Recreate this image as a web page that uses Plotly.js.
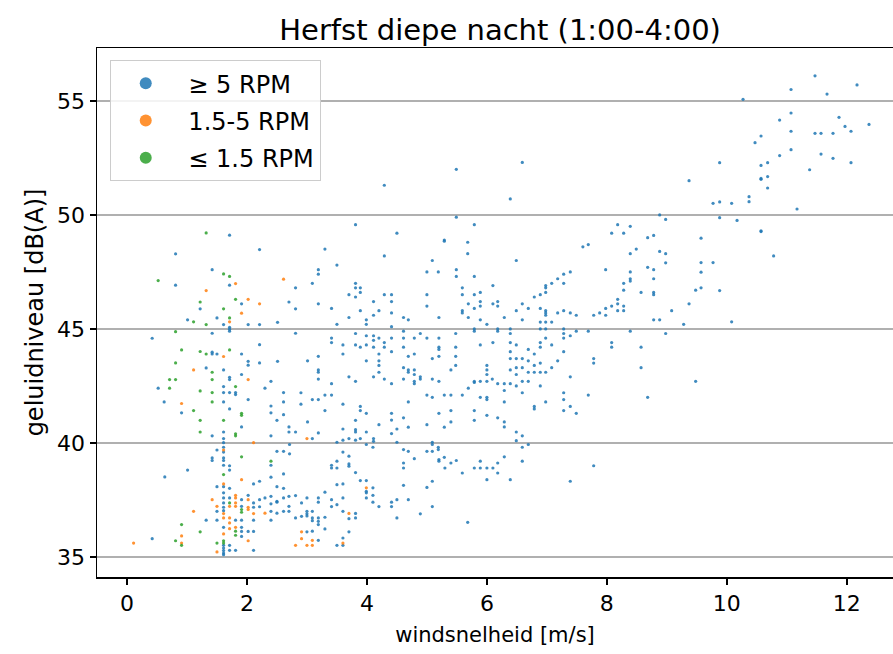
<!DOCTYPE html>
<html><head><meta charset="utf-8">
<script src="https://cdn.plot.ly/plotly-3.0.1.min.js"></script>
<style>body{margin:0;padding:0;background:#fff}#chart{width:893px;height:654px}</style>
</head><body><div id="chart"></div>
<script>
// >= 5 RPM (blue)
const blueX = [
11.47,12.17,11.07,11.67,10.27,11.07,11.87,10.88,12.37,11.97,12.07,11.47,11.57,11.77,11.07,10.57,10.47,10.88,11.07,11.57,11.77,12.07,9.88,10.57,10.68,11.38,10.57,10.57,10.68,10.68,10.37,10.37,9.77,9.88,10.08,11.17,9.88,10.17,
4.29,5.49,5.49,5.79,3.81,
6.59,6.39,9.37,8.88,8.98,8.18,8.39,
10.57,10.57,9.57,10.78,9.57,9.77,9.57,9.57,9.88,10.08,
4.50,5.29,5.29,5.68,3.30,5.68,4.29,5.09,3.50,3.19,3.19,5.0,5.19,5.49,5.49,5.79,3.09,3.81,3.81,3.89,3.89,6.1,5.59,5.59,5.89,3.70,3.81,4.29,4.41,4.41,5.0,5.0,4.11,3.19,5.79,5.69,5.79,5.89,5.89,6.1,5.59,5.59,4.20,4.11,3.89,3.41,3.70,3.99,3.99,4.41,4.61,4.69,5.2,5.69,5.89,3.50,4.41,6.0,5.79,5.79,4.61,4.89,5.48,3.81,3.41,3.41,3.99,4.11,4.11,4.2,4.41,4.61,4.79,5.0,5.2,3.6,3.81,3.89,3.99,4.11,4.29,4.29,4.41,4.61,5.2,5.2,5.48,5.89,6.1,3.6,4.2,4.79,5.2,5.09,4.69,3.19,3.99,4.2,4.2,5.48,5.48,3.01,3.19,3.19,3.7,3.81,4.11,4.2,4.29,4.41,4.61,4.69,4.69,4.79,4.79,4.79,4.79,4.89,4.89,4.61,5.09,5.2,5.4,5.79,5.79,5.89,6.0,6.0,6.0,6.0,6.09,5.69,3.19,3.41,3.41,3.3,2.9,2.9,3.09,3.19,3.6,3.89,4.69,5.0,5.09,5.29,5.4,5.59,5.89,6.0,6.0,
8.08,8.28,8.68,8.78,7.6,7.69,6.49,8.39,8.49,8.88,8.98,8.98,7.98,8.68,8.78,8.39,8.39,8.39,8.28,8.28,7.39,7.28,7.28,7.18,7.08,6.98,6.98,6.98,6.89,6.79,8.57,8.78,8.78,8.78,9.48,9.37,9.08,8.18,8.18,8.18,8.08,8.28,8.28,7.98,7.88,7.78,7.98,6.59,6.69,6.18,6.18,6.49,6.89,6.98,6.98,6.98,7.18,7.28,7.39,7.49,6.29,6.59,6.89,6.98,7.08,8.78,8.88,9.28,6.39,6.89,6.98,7.28,7.28,7.49,7.69,8.39,8.98,6.18,6.18,6.39,6.98,7.28,7.39,6.39,6.49,6.89,6.89,7.08,8.08,8.08,8.57,7.28,6.39,6.69,6.79,6.39,6.49,6.59,6.69,6.79,6.89,7.18,7.78,7.78,6.39,6.49,6.49,6.59,6.69,6.79,6.89,6.98,7.08,8.57,7.39,6.18,6.29,6.39,6.49,6.59,6.69,6.89,6.29,6.59,7.28,7.28,7.69,8.68,9.48,6.29,6.98,6.79,7.39,
1.71,0.81,2.21,1.42,0.81,1.71,2.81,1.22,1.91,2.7,2.81,1.5,1.01,1.61,1.71,1.71,1.71,2.02,2.21,2.51,1.42,2.81,0.42,1.42,1.42,1.5,1.91,2.21,2.02,2.02,2.21,2.51,1.32,1.61,1.91,1.71,1.71,2.4,0.52,1.61,2.3,1.61,1.71,1.81,1.81,2.61,2.02,0.62,1.61,2.4,2.61,
0.91,1.71,2.4,2.61,1.91,2.5,2.7,2.81,2.7,1.42,1.61,1.61,2.4,1.61,1.61,1.61,1.5,2.71,2.5,2.61,2.71,1.42,1.42,1.61,1.61,2.4,1.01,1.71,1.71,1.61,2.61,2.4,0.63,2.11,2.21,1.5,1.61,1.71,2.5,2.61,1.61,1.61,1.71,1.91,2.02,2.11,2.21,2.3,2.4,2.5,2.61,2.7,2.81,1.61,1.61,1.61,1.91,2.11,2.21,2.4,2.4,2.5,2.5,2.61,2.7,2.7,2.81,1.32,1.5,1.5,1.81,1.91,2.11,2.4,1.61,1.91,2.02,2.11,1.91,1.91,0.42,1.71,1.61,1.61,1.61,1.61,1.61,1.71,1.81,2.11,
3.3,3.89,3.99,4.41,4.41,4.61,5.2,5.4,5.4,5.79,5.79,6.0,3.01,3.81,4.2,5.0,5.29,4.69,4.5,3.6,3.19,3.81,3.81,3.99,4.41,3.09,3.6,3.7,3.81,3.89,4.11,4.11,3.5,3.99,4.1,4.5,4.61,4.69,5.09,5.09,5.0,5.09,5.19,5.19,5.29,4.79,5.2,5.2,5.4,5.49,5.89,5.89,5.79,6.0,6.1,5.59,6.0,5.3,4.61,4.61,3.6,3.5,3.5,3.41,3.41,3.7,3.7,3.7,3.81,3.89,3.99,3.99,3.99,4.1,4.1,3.99,4.1,4.2,4.41,4.41,4.5,4.61,4.69,5.0,5.09,5.09,4.89,4.5,5.68,3.5,3.6,3.3,3.19,3.19,3.0,2.91,3.41,3.5,3.6,3.7,3.81,3.81,3.6,3.41,3.3,3.19,3.19,3.19,3.09,3.09,3.09,3.0,3.0,3.0,2.91,3.09,3.0,3.3,3.6,3.7,3.19,3.5,3.6,
6.79,7.28,7.49,6.18,6.29,6.29,6.49,6.59,6.49,6.69,6.59,6.29,6.18,6.59,6.18,6.39,7.78,7.39
];
const blueY = [
56.1,55.7,55.5,55.3,55.07,54.47,54.28,54.16,53.97,53.88,53.67,53.58,53.58,53.58,53.67,53.46,53.17,52.6,52.86,52.67,52.48,52.29,52.29,52.17,52.29,51.98,51.56,51.6,51.68,51.18,50.8,50.58,50.51,50.57,50.51,50.26,49.88,49.76,
51.3,52.0,49.9,49.57,49.57,
52.3,50.7,51.5,50.0,49.8,49.57,49.5,
49.27,49.3,48.98,48.2,47.91,47.91,47.49,46.8,46.68,45.31,
49.2,48.9,48.85,48.8,48.5,48.3,48.2,48.0,47.8,47.6,47.4,47.5,47.5,47.6,47.3,47.3,47.0,47.0,46.8,46.8,46.6,46.9,46.8,46.5,46.6,46.5,46.4,46.5,46.5,46.2,46.5,46.0,46.2,46.1,46.5,46.1,45.9,46.0,46.2,46.1,45.8,45.7,45.8,45.6,45.8,45.9,45.5,45.4,45.2,45.7,45.5,45.4,45.5,45.5,45.4,45.2,45.1,45.2,45.0,44.9,44.9,44.8,44.8,44.8,44.6,44.4,44.7,44.7,44.5,44.6,44.6,44.6,44.6,44.6,44.6,44.3,44.3,44.2,44.3,44.2,44.4,44.2,44.0,44.2,44.2,44.1,44.2,44.3,44.4,43.9,43.9,43.9,43.8,43.7,43.8,43.8,43.6,43.6,43.4,43.8,43.4,43.6,43.2,43.1,42.9,42.7,42.9,43.1,42.8,42.6,43.3,43.2,43.1,43.2,43.0,42.7,42.6,42.9,42.8,42.8,42.8,42.7,43.2,42.7,42.65,42.7,43.4,43.2,43.0,42.7,42.8,42.4,42.8,42.6,42.1,42.1,42.2,41.7,41.9,41.9,41.7,41.6,41.8,42.1,42.0,42.1,42.1,42.1,42.0,42.0,41.9,
49.2,49.2,49.0,49.1,48.6,48.7,48.0,48.3,48.5,48.4,48.3,47.9,47.6,47.7,47.6,47.5,47.2,47.1,47.0,46.7,47.5,47.4,47.0,47.2,47.0,46.9,46.8,46.6,46.5,46.4,46.6,47.2,46.6,46.5,46.7,46.1,45.8,46.3,46.1,45.8,46.0,46.0,45.8,45.9,45.7,45.6,45.6,46.1,45.9,46.2,46.0,45.8,45.9,45.8,45.7,45.6,45.7,45.8,45.7,45.6,45.5,45.4,45.3,45.3,45.3,45.4,45.4,45.2,45.0,45.0,45.0,45.0,44.8,44.9,44.9,44.9,44.8,45.0,44.9,44.8,44.6,44.6,44.7,44.4,44.3,44.4,44.2,44.3,44.4,44.2,44.2,44.0,44.0,44.1,43.9,43.7,43.7,43.7,43.6,43.4,43.5,43.6,43.7,43.5,43.2,43.3,43.0,43.3,43.1,43.1,43.1,43.1,43.3,43.3,42.9,42.6,42.6,42.6,42.5,42.7,42.7,42.5,42.3,42.2,42.2,41.9,42.1,42.0,42.7,41.8,41.8,41.6,41.6,
49.11,48.29,48.48,47.6,46.92,46.92,46.8,45.88,46.1,46.18,45.88,45.48,45.4,45.19,45.07,44.99,44.9,45.19,45.19,45.29,44.81,44.81,44.59,43.98,43.9,43.9,43.9,44.31,43.58,43.41,43.51,43.58,43.29,43.2,43.0,42.88,42.78,42.7,42.4,42.47,42.4,42.21,42.21,42.21,42.12,42.21,41.9,41.8,41.8,41.62,41.8,
41.32,41.49,41.32,41.24,40.7,40.99,40.7,40.48,40.48,40.31,40.48,40.19,40.31,40.01,39.81,39.6,39.69,39.93,39.63,39.63,39.52,39.34,39.23,39.34,39.23,39.02,38.81,39.0,38.81,39.02,38.64,38.5,38.51,38.2,38.32,38.08,38.08,38.01,38.08,38.01,37.81,37.59,37.59,37.51,37.7,37.37,37.51,37.59,37.66,37.44,37.59,37.66,37.69,37.37,37.18,37.03,37.22,37.18,37.2,37.33,37.0,37.4,36.92,37.0,37.22,37.0,36.71,36.61,37.0,36.61,36.61,36.61,36.61,36.61,36.3,36.3,36.12,36.12,36.12,35.9,35.8,35.51,35.51,35.39,35.28,35.17,35.1,35.29,35.29,35.29,
41.42,41.42,41.3,41.3,41.0,41.1,41.3,41.42,40.92,41.42,40.99,41.21,40.92,40.99,40.8,40.8,40.69,40.69,40.61,40.61,40.44,40.58,40.48,40.48,40.41,40.19,40.12,40.19,40.12,40.19,40.19,40.07,40.03,39.93,39.81,40.03,39.71,39.63,40.03,39.93,39.63,39.63,39.81,39.71,39.37,39.31,39.27,39.2,39.12,39.23,39.2,38.9,38.9,38.9,38.9,38.68,38.39,38.9,39.12,38.9,39.6,39.2,38.9,39.02,38.9,39.42,39.08,38.98,38.7,38.35,38.35,37.88,37.81,38.03,37.7,37.59,37.4,37.21,37.4,37.21,37.51,38.14,37.51,38.05,38.32,37.21,36.89,36.71,36.52,38.17,38.2,37.84,37.59,37.4,37.59,37.37,37.51,37.29,37.59,36.68,36.91,36.71,37.0,37.21,36.74,36.71,36.56,36.42,37.0,36.71,36.59,37.0,36.89,36.8,36.78,36.13,36.1,36.23,35.83,36.1,35.73,35.51,35.51,
41.49,41.42,41.3,41.1,40.92,40.7,40.48,40.31,40.1,39.93,39.81,39.39,39.12,39.2,38.68,38.39,39.0,38.32
];
// 1.5-5 RPM (orange)
const orangeX = [1.81,2.61,1.32,2.02,2.21,1.91,1.71,1.61,1.11,2.02,0.91,
2.11,1.61,1.91,1.61,1.42,1.81,1.81,1.81,1.81,2.02,1.5,1.71,2.02,2.02,2.11,2.3,1.11,1.61,1.61,1.71,1.71,1.71,1.81,1.61,0.91,0.91,0.11,2.02,1.5,2.81,
3.0,3.99,3.7,2.91,2.91,3.09,3.09,3.0,3.6];
const orangeY = [46.99,47.18,46.68,46.3,46.1,45.69,45.31,43.79,43.2,42.78,41.73,
40.01,39.69,38.39,38.2,37.51,37.7,37.59,37.37,37.22,37.51,37.22,37.22,37.18,37.08,36.9,36.92,37.0,36.9,36.71,36.71,36.49,36.24,36.3,36.01,35.92,35.61,35.61,35.71,35.22,35.51,
40.19,38.03,36.91,36.1,35.8,35.73,35.51,35.51,35.61];
// <= 1.5 RPM (green)
const greenX = [1.32,0.52,1.61,1.71,1.22,1.81,1.61,1.71,1.11,1.32,0.81,0.91,1.22,1.32,1.71,0.81,1.42,0.71,0.81,1.42,0.71,1.81,1.22,1.42,1.42,
1.11,1.91,1.91,1.22,1.61,1.22,1.81,1.81,1.91,2.4,1.61,1.71,1.91,1.91,0.91,1.22,1.81,1.81,0.81,0.91,1.5,1.61,1.61];
const greenY = [49.21,47.12,47.41,47.3,46.18,46.3,45.88,45.48,45.31,45.19,44.88,44.08,44.01,43.9,44.08,43.51,43.1,42.78,42.78,42.78,42.4,42.47,42.28,42.21,41.8,
41.42,41.3,41.21,40.99,40.99,40.48,40.4,40.31,39.39,39.2,38.61,37.37,37.08,36.96,36.42,36.1,36.13,35.95,35.71,35.51,35.61,35.71,35.61];

const seriesNames = ['\u00a0\u2265 5 RPM', '\u00a01.5-5 RPM', '\u00a0\u2264 1.5 RPM'];
const xTicks = [0, 2, 4, 6, 8, 10, 12];
const yTicks = [35, 40, 45, 50, 55];

const F = 'DejaVu Sans, sans-serif';
function tr(x, y, name, color, g) {
  return {type: 'scatter', mode: 'markers', x: x, y: y, name: name, legendgroup: g,
    marker: {color: color, size: 3.2, opacity: 0.85, line: {width: 0}}, hoverinfo: 'skip'};
}
const data = [
  tr(blueX, blueY, seriesNames[0], '#1f77b4', 'a'),
  tr(orangeX, orangeY, seriesNames[1], '#ff7f0e', 'b'),
  tr(greenX, greenY, seriesNames[2], '#2ca02c', 'c')
];
const layout = {
  width: 893, height: 654,
  margin: {l: 97, r: 0, t: 48, b: 77},
  paper_bgcolor: '#fff', plot_bgcolor: '#fff',
  font: {family: F, color: '#000', size: 21},
  title: {text: 'Herfst diepe nacht (1:00-4:00)', font: {family: F, size: 29, color: '#000'},
    xref: 'container', x: 0.56, xanchor: 'center', yref: 'container', y: 0.955, yanchor: 'middle'},
  xaxis: {range: [-0.5, 12.77], tickvals: xTicks, ticks: 'outside', ticklen: 6, tickwidth: 1.5, tickcolor: '#000',
    showline: true, linewidth: 1.5, linecolor: '#000', mirror: true, showgrid: false, zeroline: false,
    tickfont: {family: F, size: 22, color: '#000'},
    title: {text: 'windsnelheid [m/s]', font: {family: F, size: 21, color: '#000'}, standoff: 12}},
  yaxis: {range: [34.12, 57.32], tickvals: yTicks, ticks: 'outside', ticklen: 6, tickwidth: 1.5, tickcolor: '#000',
    showline: true, linewidth: 1.5, linecolor: '#000', mirror: false, showgrid: true, gridcolor: '#b0b0b0', gridwidth: 1.5,
    zeroline: false, tickfont: {family: F, size: 22, color: '#000'},
    title: {text: 'geluidniveau [dB(A)]', font: {family: F, size: 24, color: '#000'}, standoff: 6}},
  legend: {x: 0.016, y: 0.977, xanchor: 'left', yanchor: 'top', bgcolor: 'rgba(255,255,255,0.85)',
    bordercolor: '#cccccc', borderwidth: 1, itemsizing: 'constant', itemwidth: 60, traceorder: 'grouped', tracegroupgap: 3,
    font: {family: F, size: 24, color: '#000'}},
  showlegend: true
};
Plotly.newPlot('chart', data, layout, {staticPlot: true, displayModeBar: false});
</script>
</body></html>
